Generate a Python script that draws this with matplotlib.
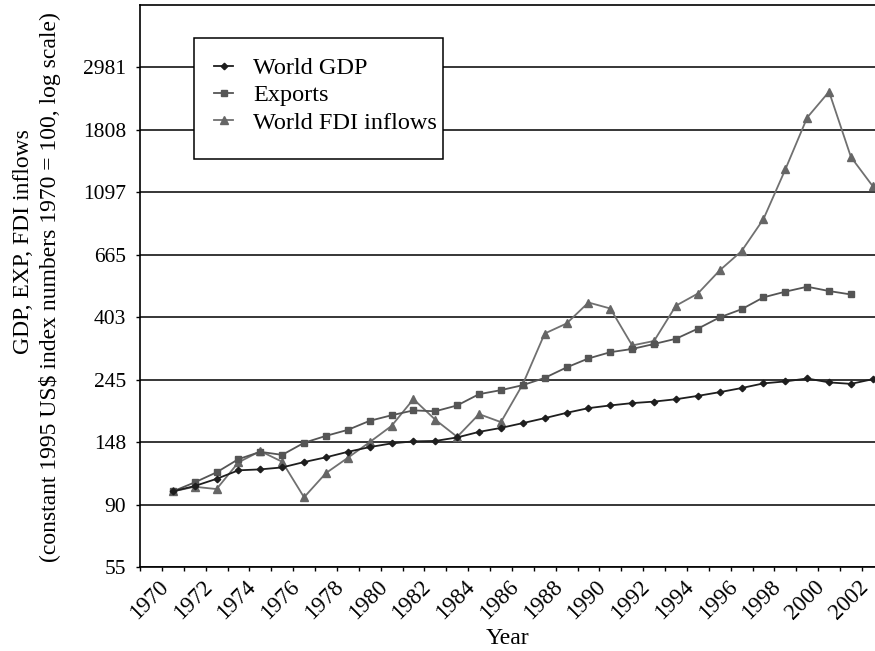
import numpy as np
import matplotlib
matplotlib.use("Agg")
import matplotlib.pyplot as plt
from matplotlib.patches import Rectangle

# ==========================================
# Data (index numbers, 1970 = 100)
# ==========================================
years = list(range(1970, 2003))

gdp = [100, 104.4, 110.6, 118.4, 119.3, 121.2, 126.5, 131.4, 137.3, 142.6,
       146.9, 149.3, 149.8, 154.1, 161.1, 166.3, 172.8, 179.8, 187.6, 194.8,
       199.1, 202.8, 205.3, 209.2, 214.9, 221.4, 228.8, 237.5, 241.3, 247.0,
       239.4, 236.6, 245.7]

exports = [100, 107.5, 116.5, 129.5, 137.3, 134.0, 147.6, 156.0, 163.7, 176.0,
           184.0, 191.3, 190.0, 199.1, 217.9, 225.0, 234.2, 248.2, 269.9, 290.0,
           304.9, 312.9, 325.6, 339.5, 368.0, 403.0, 430.0, 473.0, 495.0, 515.0,
           497.5, 484.0, np.nan]

fdi = [100, 103.8, 101.9, 126.2, 138.1, 126.8, 95.4, 115.8, 130.9, 148.4,
       169.0, 209.4, 177.5, 154.8, 185.7, 174.2, 236.0, 354.0, 383.7, 453.9,
       432.6, 321.8, 333.6, 442.5, 487.5, 587.0, 685.0, 885.0, 1317.0, 1996.0,
       2455.0, 1455.0, 1151.0]

ytick_vals = np.exp(np.arange(4.0, 8.01, 0.5))
ytick_labels = ['55', '90', '148', '245', '403', '665', '1097', '1808', '2981']

# ==========================================
# Style
# ==========================================
plt.rcParams.update({
    'font.family': 'serif',
    'font.serif': ['Liberation Serif', 'Times New Roman', 'DejaVu Serif'],
    'font.size': 16,
})

W, H = 875, 651
fig = plt.figure(figsize=(W / 100, H / 100), dpi=100)

# axes extends past the right edge (right spine cut off like the original)
left_px, top_px, bottom_px = 140, 5, 567
x0, x1 = 1968.5, 2003.5
unit = 21.875
right_px = left_px + (x1 - x0) * unit
ax = fig.add_axes([left_px / W, 1 - bottom_px / H,
                   (right_px - left_px) / W, (bottom_px - top_px) / H])

l_fdi, = ax.plot(years, fdi, color='#707070', lw=1.3, marker='^', ms=5.2,
                 mfc='#666666', mec='#666666', zorder=3)
l_exp, = ax.plot(years, exports, color='#555555', lw=1.3, marker='s', ms=4.3,
                 mfc='#555555', mec='#555555', zorder=4)
l_gdp, = ax.plot(years, gdp, color='#1e1e1e', lw=1.3, marker='D', ms=3.3,
                 mfc='#1e1e1e', mec='#1e1e1e', zorder=5)

ax.set_yscale('log')
ax.set_ylim(np.exp(4.0), np.exp(8.5))
ax.set_xlim(x0, x1)

ax.set_yticks(ytick_vals)
ax.set_yticklabels(ytick_labels)
ax.yaxis.set_minor_locator(matplotlib.ticker.NullLocator())
ax.yaxis.grid(True, which='major', color='black', lw=1.1)
ax.set_axisbelow(True)
ax.tick_params(axis='y', length=3, width=1, pad=7, labelsize=15.5)

# tick marks between categories, labels on even years
ax.set_xticks(np.arange(x0, x1 + 0.01, 1.0))
ax.set_xticklabels([])
ax.tick_params(axis='x', which='major', length=3, width=1)
even_years = years[::2]
ax.set_xticks(even_years, minor=True)
ax.set_xticklabels([str(y) for y in even_years], minor=True, rotation=45,
                   ha='right', va='top')
ax.tick_params(axis='x', which='minor', length=0, pad=7, labelsize=16.5)

for s in ['left', 'bottom', 'top']:
    ax.spines[s].set_linewidth(1.2)
    ax.spines[s].set_color('black')
ax.spines['right'].set_visible(False)

# axis titles
fig.text(24 / W, 1 - 242 / H, 'GDP, EXP, FDI inflows',
         rotation=90, ha='center', va='center', fontsize=17)
fig.text(50 / W, 1 - 287 / H,
         '(constant 1995 US\\$ index numbers 1970 = 100, log scale)',
         rotation=90, ha='center', va='center', fontsize=17)
fig.text(507 / W, 1 - 639 / H, 'Year', ha='center', va='center', fontsize=17)

# legend with boxed frame
box = Rectangle((194 / W, 1 - 159 / H), (443 - 194) / W, (159 - 38) / H,
                transform=fig.transFigure, facecolor='white', edgecolor='black',
                lw=1.1, zorder=1)
fig.patches.append(box)
fig.legend([l_gdp, l_exp, l_fdi], ['World GDP', 'Exports', 'World FDI inflows'],
           loc='upper left', bbox_to_anchor=(214 / W, 1 - 57 / H),
           bbox_transform=fig.transFigure, frameon=False, borderpad=0,
           borderaxespad=0, handlelength=0.8, handletextpad=0.8,
           labelspacing=0.22, fontsize=17.5)

fig.savefig('out.png', dpi=100)
